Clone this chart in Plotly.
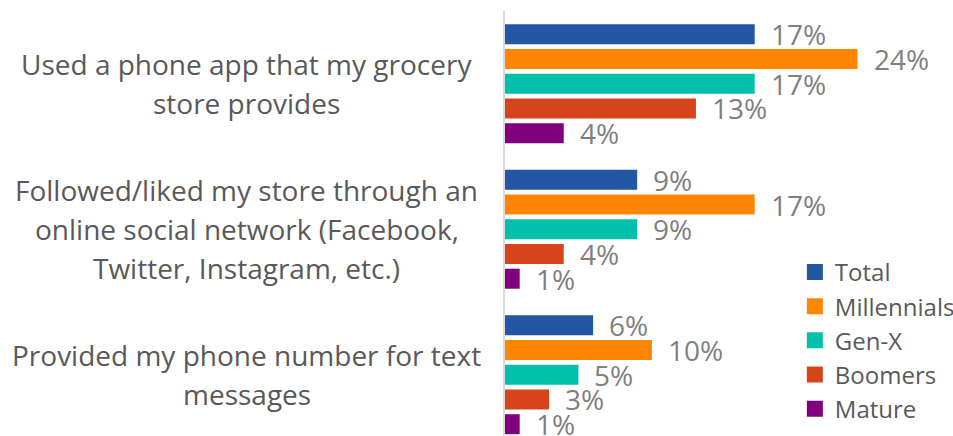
import plotly.graph_objects as go

# Survey categories (top to bottom) and generational series, in percent
categories = [
    "Used a phone app that my grocery\nstore provides",
    "Followed/liked my store through an\nonline social network (Facebook,\nTwitter, Instagram, etc.)",
    "Provided my phone number for text\nmessages",
]
series_names = ["Total", "Millennials", "Gen-X", "Boomers", "Mature"]
total = [17, 9, 6]
millennials = [24, 17, 10]
gen_x = [17, 9, 5]
boomers = [13, 4, 3]
mature = [4, 1, 1]
colors = ["#2356A4", "#FF8502", "#02C0AA", "#D8441A", "#81007F"]

values = [total, millennials, gen_x, boomers, mature]
positions = list(range(len(categories)))

FONT = "Open Sans"
LABEL_GRAY = "#7F7F7F"
TEXT_GRAY = "#595959"

bar_pitch = 0.17
bar_width = 0.1375
line_step = 39  # px between wrapped category-label lines

fig = go.Figure()
annotations = []
for i, (name, vals, col) in enumerate(zip(series_names, values, colors)):
    center_shift = (i - 2) * bar_pitch
    fig.add_trace(go.Bar(
        name=name, y=positions, x=vals, orientation="h",
        width=bar_width, offset=center_shift - bar_width / 2,
        marker=dict(color=col, line=dict(width=0)),
        showlegend=False, hoverinfo="x+name",
    ))
    # legend entry with a larger square swatch
    fig.add_trace(go.Scatter(
        name=name, x=[None], y=[None], mode="markers",
        marker=dict(symbol="square", size=16, color=col),
        legendgroup=name, showlegend=True,
    ))
    for p, v in zip(positions, vals):
        annotations.append(dict(
            x=v, y=p + center_shift, xref="x", yref="y",
            text=f"{v}%", showarrow=False, xanchor="left", yanchor="middle",
            xshift=14, font=dict(family=FONT, size=28, color=LABEL_GRAY),
        ))

# wrapped category labels, one annotation per line for even spacing
for p, cat in zip(positions, categories):
    lines = cat.split("\n")
    n = len(lines)
    for j, line in enumerate(lines):
        annotations.append(dict(
            x=-0.576, y=p, xref="paper", yref="y", text=line, showarrow=False,
            xanchor="center", yanchor="middle", align="center",
            yshift=-(j - (n - 1) / 2) * line_step,
            font=dict(family=FONT, size=28, color=TEXT_GRAY),
        ))

fig.update_layout(
    width=953, height=436,
    margin=dict(l=505, r=0, t=11, b=0, autoexpand=False),
    paper_bgcolor="white", plot_bgcolor="white",
    barmode="overlay",
    font=dict(family=FONT, color=TEXT_GRAY),
    xaxis=dict(range=[0, 30.5], showgrid=False, zeroline=False,
               showticklabels=False, showline=False, fixedrange=True),
    yaxis=dict(range=[2.421, -0.5], showgrid=False, zeroline=False,
               showticklabels=False, showline=True, linecolor="#D9D9D9",
               linewidth=2, ticks="", fixedrange=True),
    legend=dict(x=0.647, y=0.438, xanchor="left", yanchor="top",
                font=dict(family=FONT, size=24, color=TEXT_GRAY),
                bgcolor="rgba(0,0,0,0)", tracegroupgap=0,
                itemwidth=30),
    annotations=annotations,
)

fig.write_html("out.html")
